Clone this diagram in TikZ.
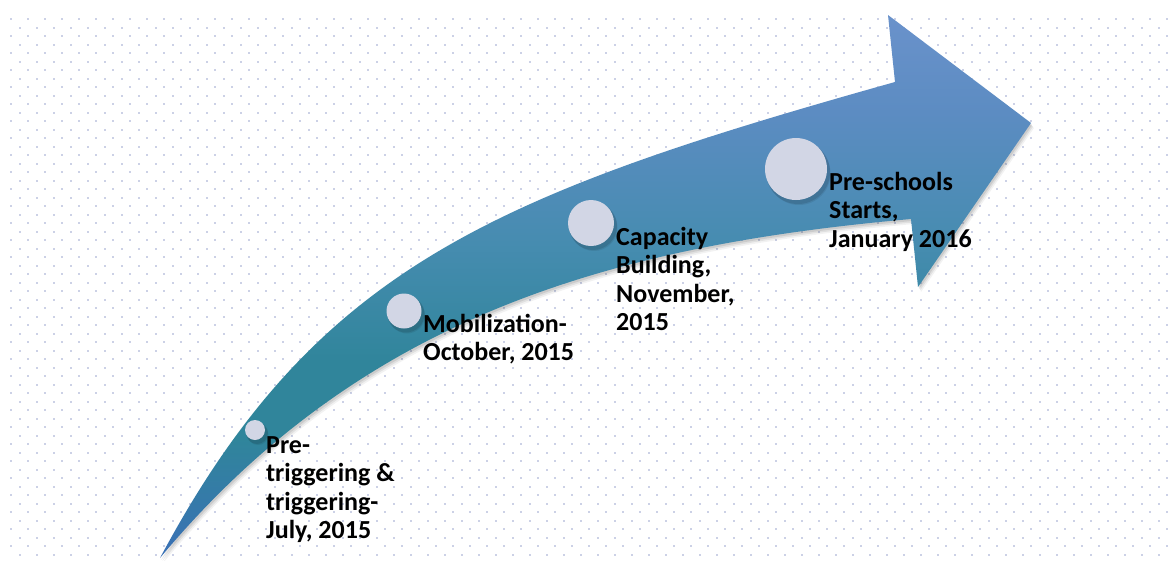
\documentclass[tikz,border=0pt]{standalone}
\usepackage{fontspec}
\setmainfont{Carlito}
\definecolor{dotc}{RGB}{204,209,230}
\definecolor{circfill}{RGB}{210,214,229}
\definecolor{cTail}{RGB}{58,112,182}
\definecolor{cTeal}{RGB}{48,133,155}
\definecolor{cMid}{RGB}{70,140,176}
\definecolor{cHead}{RGB}{92,140,194}
\definecolor{cTop}{RGB}{106,146,203}
\pgfdeclareverticalshading{arrowshade}{100bp}{%
  color(0bp)=(cTail); color(25bp)=(cTail); color(36bp)=(cTeal); color(43bp)=(cTeal);
  color(54bp)=(cMid); color(66bp)=(cHead); color(75bp)=(cTop); color(100bp)=(cTop)}
\tikzset{
  milestone/.style={circle, fill=circfill, inner sep=0pt},
  label text/.style={anchor=north west, inner sep=0pt, align=left,
    font={\fontsize{26}{28.5}\selectfont\bfseries}, text=black},
}
\begin{document}
\begin{tikzpicture}[x=1pt,y=-1pt]
\useasboundingbox (0,0) rectangle (1173,560);
\fill[white] (0,0) rectangle (1173,560);
% dotted background
\foreach \j in {0,...,68}{
  \foreach \k in {0,...,31}{
    \fill[dotc] ({11+17*\j-1},{19+17*\k-1}) rectangle ++(2,2);
  }
}
\foreach \j in {0,...,67}{
  \foreach \k in {0,...,31}{
    \fill[dotc] ({19.5+17*\j-1},{27.5+17*\k-1}) rectangle ++(2,2);
  }
}
% arrow shadow
\foreach \s/\o in {5/0.05,3.5/0.07,2/0.09}{
  \fill[black, opacity=\o, shift={(\s*0.6,\s)}]
    (160,558) .. controls (315,268) and (492,195) .. (895,82)
    -- (888,15) -- (1031,123) -- (918,287) -- (911,219)
    .. controls (620,245) and (365,312) .. (160,558) -- cycle;
}
% arrow body
\shade[shading=arrowshade]
  (160,558) .. controls (315,268) and (492,195) .. (895,82)
  -- (888,15) -- (1031,123) -- (918,287) -- (911,219)
  .. controls (620,245) and (365,312) .. (160,558) -- cycle;
% milestones
\foreach \n/\x/\y/\r in {m1/255/430/10, m2/404/311/17.5, m3/591/223/23, m4/796/169/31}{
  \fill[black, opacity=0.10] (\x+2,\y+3) circle (\r+1);
  \fill[black, opacity=0.08] (\x+3,\y+4.5) circle (\r+0.5);
  \node[milestone, minimum size={2*\r pt}] (\n) at (\x,\y) {};
}
% labels
\node[label text] (t1) at (266,433) {\strut Pre-\\triggering \&\\triggering-\\July, 2015};
\node[label text] (t2) at (423,312) {\strut Mobilization-\\October, 2015};
\node[label text] (t3) at (616,225) {\strut Capacity\\Building,\\November,\\2015};
\node[label text] (t4) at (829,170) {\strut Pre-schools\\Starts,\\January 2016};
\end{tikzpicture}
\end{document}
